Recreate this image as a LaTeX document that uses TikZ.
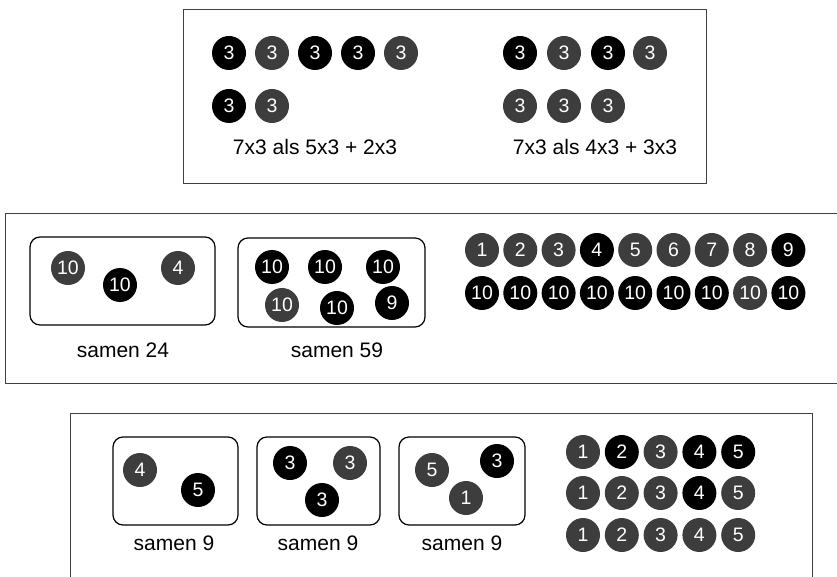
\documentclass[tikz,border=0pt]{standalone}
\usepackage{fontspec}
\setmainfont{Liberation Sans}
\begin{document}
\begin{tikzpicture}[x=1pt,y=-1pt,
  chip/.style={circle,minimum size=34pt,inner sep=0pt,text=white,font=\fontsize{19.5}{19.5}\selectfont},
  gc/.style={chip,fill=black!76},
  bc/.style={chip,fill=black},
  lbl/.style={font=\fontsize{21}{23}\selectfont,inner sep=0pt},
  rbox/.style={draw,rounded corners=10pt,line width=1.2pt},
  frame/.style={draw=black!75,line width=0.8pt}]
\useasboundingbox (0,0) rectangle (837,577);
% ---------- frame 1 ----------
\draw[frame] (183,9) rectangle (706,183);
\node[bc] (a1) at (229,53) {3};
\node[gc] (a2) at (272,53) {3};
\node[bc] (a3) at (315,53) {3};
\node[bc] (a4) at (358,53) {3};
\node[gc] (a5) at (401,53) {3};
\node[bc] (a6) at (229,106) {3};
\node[gc] (a7) at (272,106) {3};
\node[lbl] (la) at (315,147) {7x3 als 5x3 + 2x3};
\node[bc] (b1) at (520,53) {3};
\node[gc] (b2) at (564,53) {3};
\node[bc] (b3) at (608,53) {3};
\node[gc] (b4) at (650,53) {3};
\node[gc] (b5) at (520,106) {3};
\node[gc] (b6) at (564,106) {3};
\node[gc] (b7) at (608,106) {3};
\node[lbl] (lb) at (595,147) {7x3 als 4x3 + 3x3};
% ---------- frame 2 ----------
\draw[frame] (837,213) -- (5,213) -- (5,383) -- (837,383);
\draw[rbox] (30,237) rectangle (215,325);
\node[gc] (c1) at (68,268) {10};
\node[bc] (c2) at (120,285) {10};
\node[gc] (c3) at (178,268) {4};
\node[lbl] (lc) at (123,350) {samen 24};
\draw[rbox] (238,238) rectangle (425,327);
\node[bc] (d1) at (272,267) {10};
\node[bc] (d2) at (325,267) {10};
\node[bc] (d3) at (383,267) {10};
\node[gc] (d4) at (282,305) {10};
\node[bc] (d5) at (337,308) {10};
\node[bc] (d6) at (392,303) {9};
\node[lbl] (ld) at (337,350) {samen 59};
\foreach \i/\s in {1/gc,2/gc,3/gc,4/bc,5/gc,6/gc,7/gc,8/gc,9/bc}
  \node[\s] (e\i) at ({482+38.3*(\i-1)},250) {\i};
\foreach \i/\s in {1/bc,2/bc,3/bc,4/bc,5/bc,6/bc,7/bc,8/gc,9/bc}
  \node[\s] (f\i) at ({482+38.3*(\i-1)},293) {10};
% ---------- frame 3 ----------
\draw[frame] (70,577) -- (70,413) -- (812,413) -- (812,577);
\draw[rbox] (113,437) rectangle (238,525);
\node[gc] (g1) at (140,470) {4};
\node[bc] (g2) at (198,490) {5};
\node[lbl] (lg) at (174,543) {samen 9};
\draw[rbox] (257,437) rectangle (380,525);
\node[bc] (h1) at (290,463) {3};
\node[gc] (h2) at (350,463) {3};
\node[bc] (h3) at (322,500) {3};
\node[lbl] (lh) at (318,543) {samen 9};
\draw[rbox] (399,437) rectangle (525,525);
\node[gc] (k1) at (432,470) {5};
\node[bc] (k2) at (497,461) {3};
\node[gc] (k3) at (466,498) {1};
\node[lbl] (lk) at (462,543) {samen 9};
\foreach \i/\s in {1/gc,2/bc,3/gc,4/bc,5/bc}
  \node[\s] (m\i) at ({583+38.8*(\i-1)},452) {\i};
\foreach \i/\s in {1/gc,2/gc,3/gc,4/bc,5/gc}
  \node[\s] (n\i) at ({583+38.8*(\i-1)},493) {\i};
\foreach \i/\s in {1/gc,2/gc,3/gc,4/gc,5/gc}
  \node[\s] (o\i) at ({583+38.8*(\i-1)},535) {\i};
\end{tikzpicture}
\end{document}
